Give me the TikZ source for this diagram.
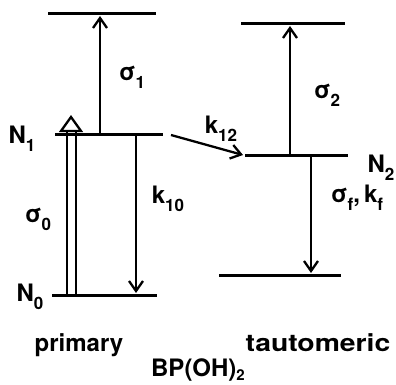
\documentclass[tikz,border=0pt]{standalone}
\usepackage{fontspec}
\setmainfont{TeX Gyre Heros}
\usetikzlibrary{arrows.meta}

\newcommand\lowsub[1]{\raisebox{-0.6ex}{\fontsize{17}{17}\selectfont #1}}
\newcommand\chemsub[1]{\raisebox{-0.3ex}{\fontsize{15}{15}\selectfont #1}}

\begin{document}
\begin{tikzpicture}[
            x=1pt, y=-1pt,
            level/.style={line width=3pt},
            trans/.style={line width=2.3pt, -{Straight Barb[length=10pt, width=14pt, line width=2.3pt]}},
            absorb/.style={line width=2.3pt},
            lab/.style={inner sep=0pt, font=\fontsize{24}{24}\selectfont\bfseries},
            title/.style={inner sep=0pt, font=\fontsize{24}{24}\selectfont\bfseries}
        ]
            \useasboundingbox (0,0) rectangle (396,385);

            % primary levels
            \coordinate (p2a) at (48,14);  \coordinate (p2b) at (156,14);
            \coordinate (p1a) at (55,135); \coordinate (p1b) at (163,135);
            \coordinate (p0a) at (52,295); \coordinate (p0b) at (157,295);
            \draw[level] (p2a) -- (p2b);
            \draw[level] (p1a) -- (p1b);
            \draw[level] (p0a) -- (p0b);

            % tautomeric levels
            \coordinate (t2a) at (241,24);  \coordinate (t2b) at (345,24);
            \coordinate (t1a) at (245,155); \coordinate (t1b) at (348,155);
            \coordinate (t0a) at (219,275); \coordinate (t0b) at (341,275);
            \draw[level] (t2a) -- (t2b);
            \draw[level] (t1a) -- (t1b);
            \draw[level] (t0a) -- (t0b);

            % arrow end points
            \coordinate (s1a) at (100,135); \coordinate (s1b) at (100,16);
            \coordinate (k10a) at (136,135); \coordinate (k10b) at (136,293);
            \coordinate (k12a) at (171,135); \coordinate (k12b) at (243,155);
            \coordinate (s2a) at (290,155); \coordinate (s2b) at (290,26);
            \coordinate (sfa) at (311,155); \coordinate (sfb) at (311,273);
            \coordinate (s0l) at (67,295); \coordinate (s0r) at (76,295);
            \coordinate (tipl) at (61,131); \coordinate (tipr) at (81,131);
            \coordinate (tip) at (71,117);

            % transitions
            \draw[trans] (s1a) -- (s1b);
            \draw[trans] (k10a) -- (k10b);
            \draw[trans] (k12a) -- (k12b);
            \draw[trans] (s2a) -- (s2b);
            \draw[trans] (sfa) -- (sfb);

            % double absorption arrow
            \draw[absorb] (s0l) -- (s0l |- tipl);
            \draw[absorb] (s0r) -- (s0r |- tipr);
            \draw[absorb, line join=miter] (tipl) -- (tip) -- (tipr) -- cycle;

            % labels
            \node[lab] (n1) at (22,139) {N\lowsub{1}};
            \node[lab] (n0) at (30,297) {N\lowsub{0}};
            \node[lab] (n2) at (381,168) {N\lowsub{2}};
            \node[lab] (sig1) at (132,77) {σ\lowsub{1}};
            \node[lab] (sig0) at (38,219) {σ\lowsub{0}};
            \node[lab] (sig2) at (327,95) {σ\lowsub{2}};
            \node[lab] (k10) at (168,199) {k\lowsub{10}};
            \node[lab] (k12) at (221,129) {k\lowsub{12}};
            \node[lab] (sigf) at (357,198) {σ\lowsub{f},\,k\lowsub{f}};

            % titles
            \node[title] (prim) at (79,345) {primary};
            \node[title] (taut) at (318,343) {\addfontfeature{FakeStretch=1.18}tautomeric};
            \node[title] (bp) at (198,370) {BP(OH)\chemsub{2}};

        \end{tikzpicture}
\end{document}
